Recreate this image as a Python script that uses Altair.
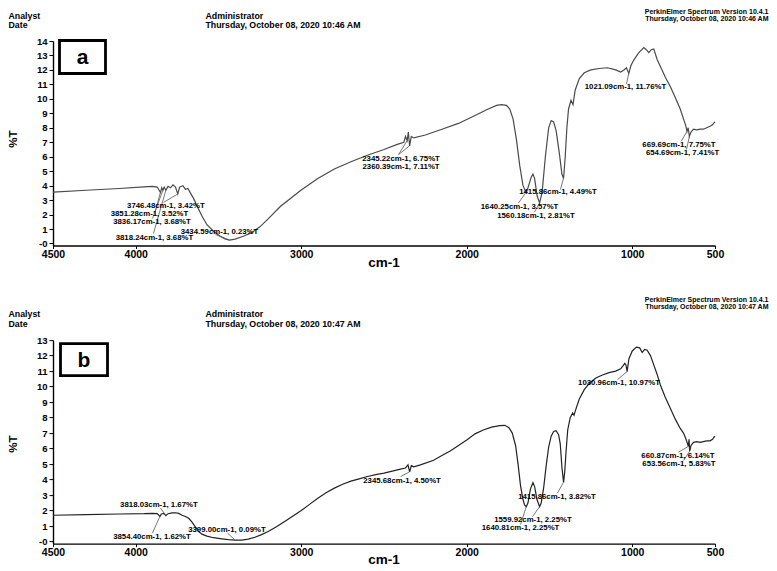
import altair as alt
import pandas as pd

FONT = "Liberation Sans"

# ---------------- spectrum (a) ----------------
wn_a = [4500, 4300, 4100, 3950, 3900, 3870, 3851, 3843, 3836, 3828, 3818, 3805, 3790,
        3775, 3760, 3746, 3735, 3715, 3700, 3685, 3670, 3650, 3630, 3600, 3570, 3530,
        3490, 3460, 3434, 3400, 3350, 3300, 3250, 3200, 3125, 3050, 3000, 2900, 2800,
        2700, 2600, 2500, 2420, 2380, 2370, 2360, 2353, 2345, 2335, 2320, 2250, 2150,
        2050, 1950, 1880, 1820, 1790, 1760, 1740, 1720, 1700, 1680, 1660, 1645, 1640,
        1630, 1610, 1600, 1590, 1575, 1560, 1545, 1525, 1505, 1490, 1475, 1460, 1440,
        1425, 1415, 1405, 1395, 1385, 1370, 1358, 1345, 1320, 1290, 1250, 1200, 1150,
        1100, 1070, 1050, 1035, 1021, 1008, 990, 960, 930, 915, 900, 885, 870, 849,
        820, 800, 768, 740, 710, 690, 678, 669, 662, 655, 645, 630, 610, 590, 570, 550,
        530, 515, 505, 500]
t_a = [3.55, 3.68, 3.80, 3.92, 3.95, 3.90, 3.52, 3.85, 3.68, 3.90, 3.68, 3.95, 3.85,
       4.05, 3.90, 3.42, 3.90, 4.00, 3.75, 3.80, 3.50, 3.10, 2.60, 1.90, 1.30, 0.85,
       0.50, 0.32, 0.23, 0.30, 0.50, 0.75, 1.15, 1.70, 2.57, 3.25, 3.70, 4.50, 5.15,
       5.65, 6.10, 6.50, 6.85, 7.00, 7.40, 7.11, 7.70, 6.75, 7.40, 7.30, 7.50, 7.90,
       8.30, 8.85, 9.25, 9.55, 9.60, 9.55, 9.30, 8.60, 7.20, 5.40, 4.00, 3.60, 3.57,
       3.85, 4.60, 4.80, 4.50, 3.30, 2.81, 3.50, 6.00, 8.00, 8.50, 8.40, 7.80, 6.20,
       4.80, 4.49, 6.00, 8.00, 9.30, 9.90, 9.60, 10.60, 11.40, 11.80, 12.00, 12.10, 12.15,
       12.00, 11.85, 12.00, 12.15, 11.76, 12.30, 12.70, 13.20, 13.55, 13.40, 13.20, 13.40, 13.45, 12.70,
       12.00, 11.50, 10.80, 10.10, 9.30, 8.60, 8.20, 7.75, 8.00, 7.41, 7.70, 7.90, 7.85, 7.90, 7.90, 8.00,
       8.10, 8.20, 8.35, 8.40]

# ---------------- spectrum (b) ----------------
wn_b = [4500, 4300, 4100, 3950, 3900, 3870, 3854, 3845, 3830, 3818, 3805, 3780, 3760,
        3740, 3720, 3700, 3680, 3660, 3640, 3620, 3600, 3570, 3530, 3480, 3440, 3399,
        3360, 3320, 3280, 3240, 3200, 3150, 3100, 3050, 3000, 2950, 2900, 2850, 2800,
        2750, 2700, 2650, 2600, 2550, 2500, 2450, 2400, 2370, 2355, 2345, 2335, 2320,
        2280, 2200, 2150, 2100, 2050, 2000, 1950, 1900, 1850, 1800, 1770, 1745, 1725,
        1705, 1690, 1675, 1660, 1650, 1640, 1630, 1615, 1600, 1590, 1575, 1560, 1550,
        1535, 1520, 1505, 1490, 1475, 1460, 1445, 1435, 1425, 1415, 1408, 1400, 1390,
        1375, 1360, 1352, 1345, 1320, 1290, 1260, 1220, 1180, 1140, 1100, 1070, 1055,
        1045, 1038, 1031, 1020, 1000, 975, 955, 940, 925, 910, 890, 870, 850, 830, 800,
        770, 740, 710, 690, 675, 661, 657, 653, 645, 630, 610, 590, 570, 550, 530, 515,
        505, 500]
t_b = [1.70, 1.74, 1.78, 1.80, 1.82, 1.80, 1.62, 1.78, 1.82, 1.67, 1.80, 1.85, 1.86,
       1.82, 1.70, 1.62, 1.50, 1.25, 0.95, 0.65, 0.48, 0.35, 0.25, 0.18, 0.13, 0.09,
       0.10, 0.16, 0.28, 0.45, 0.65, 0.95, 1.30, 1.65, 2.00, 2.40, 2.80, 3.15, 3.45,
       3.70, 3.90, 4.05, 4.20, 4.32, 4.42, 4.55, 4.68, 4.75, 4.95, 4.50, 4.90, 4.82,
       4.95, 5.25, 5.55, 5.85, 6.20, 6.55, 6.95, 7.20, 7.38, 7.48, 7.50, 7.35, 7.00,
       6.20, 5.00, 3.60, 2.70, 2.35, 2.25, 2.50, 3.40, 3.80, 3.55, 2.70, 2.25, 2.50,
       3.50, 4.90, 6.10, 6.80, 7.10, 7.15, 6.90, 6.30, 4.80, 3.82, 4.50, 5.80, 7.20,
       8.00, 8.30, 8.15, 8.40, 9.20, 9.80, 10.20, 10.55, 10.75, 10.90, 11.00, 11.15, 11.35,
       11.50, 11.40, 10.97, 11.80, 12.30, 12.55, 12.50, 12.20, 12.40, 12.35, 12.00, 11.40, 10.80, 10.10, 9.30,
       8.60, 7.90, 7.30, 7.00, 6.60, 6.14, 6.60, 5.83, 6.20, 6.40, 6.45, 6.40, 6.45, 6.50, 6.50, 6.60,
       6.75, 6.80]

x_ticks = [4500, 4000, 3000, 2000, 1000, 500]

# peak labels: text, label centre (cm-1, %T), leader start (cm-1, %T)
labels_a = ["3746.48cm-1, 3.42%T", "3851.28cm-1, 3.52%T", "3836.17cm-1, 3.68%T",
            "3818.24cm-1, 3.68%T", "3434.59cm-1, 0.23%T", "2345.22cm-1, 6.75%T",
            "2360.39cm-1, 7.11%T", "1415.86cm-1, 4.49%T", "1640.25cm-1, 3.57%T",
            "1560.18cm-1, 2.81%T", "1021.09cm-1, 11.76%T", "669.69cm-1, 7.75%T",
            "654.69cm-1, 7.41%T"]
label_at_a = [(3818, 2.59), (3917, 2.03), (3902, 1.47), (3887, 0.39), (3494, 0.80),
              (2397, 5.84), (2397, 5.28), (1449, 3.53), (1681, 2.49), (1582, 1.90),
              (1041, 10.79), (718, 6.81), (696, 6.25)]
leader_a = [(3832, 2.84), (3881, 2.25), (3899, 1.73), (3893, 0.69), (3518, 0.62),
            (2412, 6.15), (2412, 6.15), (1434, 3.73), (1687, 2.80), (1591, 2.17),
            (1035, 11.03), (703, 7.08), (672, 6.50)]

labels_b = ["3818.03cm-1, 1.67%T", "3854.40cm-1, 1.62%T", "3399.00cm-1, 0.09%T",
            "2345.68cm-1, 4.50%T", "1415.86cm-1, 3.82%T", "1559.92cm-1, 2.25%T",
            "1640.81cm-1, 2.25%T", "1030.96cm-1, 10.97%T", "660.87cm-1, 6.14%T",
            "653.56cm-1, 5.83%T"]
label_at_b = [(3860, 2.39), (3902, 0.28), (3449, 0.74), (2391, 3.94), (1455, 2.90),
              (1600, 1.40), (1675, 0.86), (1080, 10.21), (724, 5.55), (718, 5.00)]
leader_b = [(3850, 2.16), (3899, 0.55), (3446, 0.55), (2400, 4.19), (1452, 3.13),
            (1603, 1.61), (1675, 1.10), (1089, 10.45), (721, 5.77), (690, 5.23)]

stamp_a = "Thursday, October 08, 2020 10:46 AM"
stamp_b = "Thursday, October 08, 2020 10:47 AM"


def target(label):
    wn = float(label.split("cm-1")[0])
    t = float(label.split(", ")[1].replace("%T", ""))
    return wn, t


def text_layer(txt, x, y, size, align="left", angle=0, weight="bold"):
    kw = dict(text=txt, align=align, baseline="middle", font=FONT,
              fontWeight=weight, fontSize=size, color="black")
    if angle:
        kw["angle"] = angle
    return alt.Chart(pd.DataFrame({"k": [0]})).mark_text(**kw).encode(
        x=alt.value(x), y=alt.value(y))


def panel(wn, t, ymax, ymin, height, labels, label_at, leader, stamp, letter,
          hdr, pe, box, ylab_y, xtitle_y, curve_color):
    xs = alt.Scale(domain=[500, 4500], reverse=True, nice=False, zero=False)
    ys = alt.Scale(domain=[ymin, ymax], nice=False, zero=False)
    xax = alt.Axis(values=x_ticks, format="d", title=None, grid=False,
                   labelFont=FONT, labelFontWeight="bold", labelFontSize=10.5,
                   labelColor="black", domainColor="black", domainWidth=1.4,
                   tickColor="black", tickSize=3, labelPadding=1, labelFlush=False)
    yax = alt.Axis(values=list(range(0, ymax + 1)), title=None, grid=False,
                   labelExpr="datum.value == 0 ? '-0' : datum.label",
                   labelFont=FONT, labelFontWeight="bold", labelFontSize=9.5,
                   labelColor="black", domainColor="black", domainWidth=1.4,
                   tickColor="black", tickSize=4, labelPadding=2)

    def X(f):
        return alt.X(f, scale=xs, axis=xax, title=None)

    def Y(f):
        return alt.Y(f, scale=ys, axis=yax, title=None)

    spec = pd.DataFrame({"wn": wn, "t": t})
    curve = alt.Chart(spec).mark_line(color=curve_color, strokeWidth=1.2).encode(
        x=X("wn:Q"), y=Y("t:Q"), order="wn:Q")

    rows = []
    for lab, (cx, cy), (lx, ly) in zip(labels, label_at, leader):
        tx, ty = target(lab)
        rows.append({"label": lab, "cx": cx, "cy": cy, "lx": lx, "ly": ly,
                     "tx": tx, "ty": ty})
    ann = pd.DataFrame(rows)
    leaders = alt.Chart(ann).mark_rule(color="#555555", strokeWidth=0.8).encode(
        x=X("lx:Q"), y=Y("ly:Q"), x2="tx:Q", y2="ty:Q")
    texts = alt.Chart(ann).mark_text(font=FONT, fontWeight="bold", fontSize=7.8,
                                     color="black", baseline="middle").encode(
        x=X("cx:Q"), y=Y("cy:Q"), text="label:N")

    bx0, by0, bx1, by1 = box
    box_rect = alt.Chart(pd.DataFrame({"k": [0]})).mark_rect(
        fill="white", stroke="black", strokeWidth=2.8).encode(
        x=alt.value(bx0), x2=alt.value(bx1), y=alt.value(by0), y2=alt.value(by1))
    box_txt = text_layer(letter, (bx0 + bx1) / 2, (by0 + by1) / 2 + 1, 21, align="center")

    layers = [curve, leaders, texts, box_rect, box_txt,
              text_layer("Analyst", -44.5, hdr[0], 8.8),
              text_layer("Date", -44.5, hdr[1], 8.8),
              text_layer("Administrator", 152.5, hdr[0], 8.8),
              text_layer(stamp, 152.5, hdr[1], 8.8),
              text_layer("PerkinElmer Spectrum Version 10.4.1", 715.5, pe[0], 7, align="right"),
              text_layer(stamp, 715.5, pe[1], 7, align="right"),
              text_layer("%T", -38.75, ylab_y, 11.5, align="center", angle=270),
              text_layer("cm-1", 331, xtitle_y, 13.5, align="center")]
    return alt.layer(*layers).properties(width=662, height=height)


top = panel(wn_a, t_a, 14, -0.14, 204.5, labels_a, label_at_a, leader_a, stamp_a, "a",
            hdr=(-25.5, -15.8), pe=(-29, -21.8), box=(6.5, -0.5, 52.5, 32.5),
            ylab_y=98, xtitle_y=221.5, curve_color="#4a4a4a")
bottom = panel(wn_b, t_b, 13, -0.13, 203.5, labels_b, label_at_b, leader_b, stamp_b, "b",
               hdr=(-26, -16.6), pe=(-40, -32.8), box=(7.5, 3.5, 54.5, 35.5),
               ylab_y=104, xtitle_y=220, curve_color="#222222")

chart = alt.vconcat(top, bottom, spacing=27.1).resolve_scale(
    x="independent", y="independent").properties(
    padding={"left": 0, "top": 0, "right": 0, "bottom": 0},
    background="white").configure_view(stroke=None)

chart.save("out.html", embed_options={"renderer": "svg", "actions": False})
